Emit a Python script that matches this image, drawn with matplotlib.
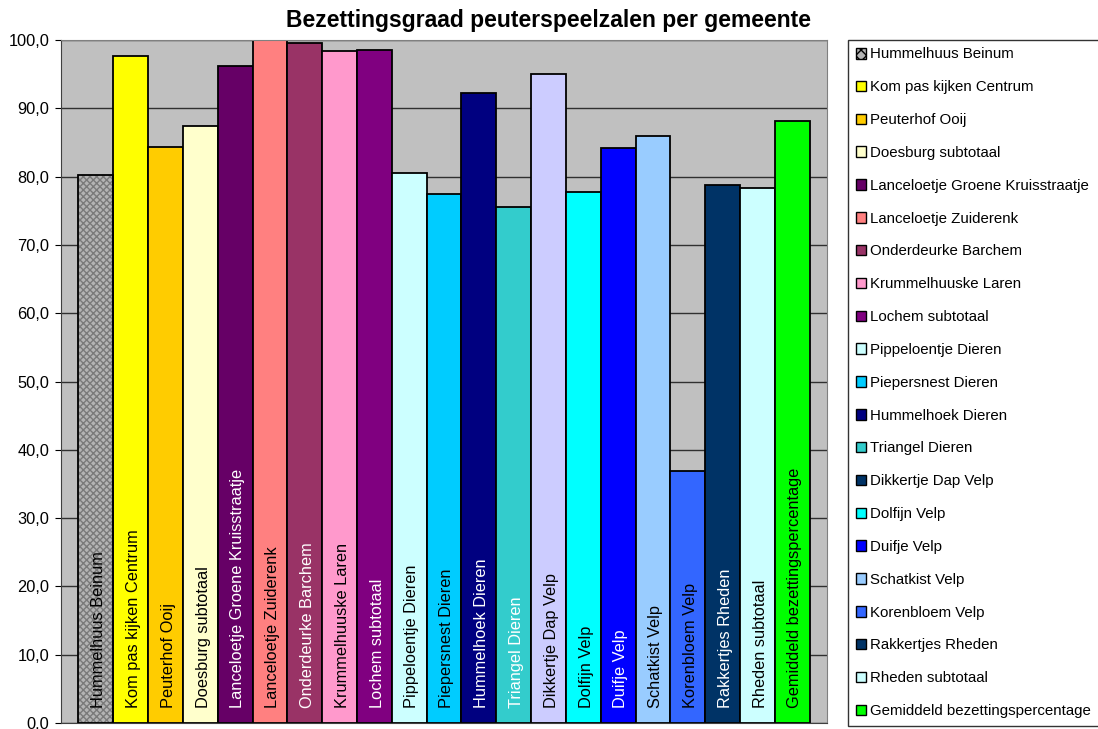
import matplotlib
matplotlib.use('Agg')
import matplotlib.pyplot as plt
from matplotlib.patches import Patch
from matplotlib.ticker import FuncFormatter

plt.rcParams['font.family'] = ['Liberation Sans', 'DejaVu Sans']

names = ['Hummelhuus Beinum', 'Kom pas kijken Centrum', 'Peuterhof Ooij', 'Doesburg subtotaal',
         'Lanceloetje Groene Kruisstraatje', 'Lanceloetje Zuiderenk', 'Onderdeurke Barchem',
         'Krummelhuuske Laren', 'Lochem subtotaal', 'Pippeloentje Dieren', 'Piepersnest Dieren',
         'Hummelhoek Dieren', 'Triangel Dieren', 'Dikkertje Dap Velp', 'Dolfijn Velp', 'Duifje Velp',
         'Schatkist Velp', 'Korenbloem Velp', 'Rakkertjes Rheden', 'Rheden subtotaal',
         'Gemiddeld bezettingspercentage']
values = [80.2, 97.7, 84.4, 87.4, 96.2, 100.0, 99.6, 98.4, 98.5, 80.6, 77.4,
          92.2, 75.5, 95.0, 77.7, 84.2, 85.9, 36.9, 78.8, 78.4, 88.1]
bar_colors = ['#B4B4B4', '#FFFF00', '#FFCC00', '#FFFFCC', '#660066', '#FF8080', '#993366',
              '#FF99CC', '#800080', '#CCFFFF', '#00CCFF', '#000080', '#33CCCC', '#CCCCFF',
              '#00FFFF', '#0000FF', '#99CCFF', '#3366FF', '#003366', '#CCFFFF', '#00FF00']
legend_colors = bar_colors[:13] + ['#003366'] + bar_colors[14:]
text_colors = ['black', 'black', 'black', 'black', 'white', 'black', 'white', 'black', 'white',
               'black', 'black', 'white', 'white', 'black', 'black', 'white', 'black', 'black',
               'white', 'black', 'black']

fig = plt.figure(figsize=(10.98, 7.29), dpi=100)
ax = fig.add_axes([61/1098, 1-723/729, (827-61)/1098, (723-40)/729])
ax.set_facecolor('#C0C0C0')

for i, (v, c) in enumerate(zip(values, bar_colors)):
    if i == 0:
        ax.bar(i, v, width=1.0, color=c, hatch='xxxxx', edgecolor='#7A7A7A', linewidth=0, zorder=2)
        ax.bar(i, v, width=1.0, fill=False, edgecolor='black', linewidth=1.3, zorder=3)
    else:
        ax.bar(i, v, width=1.0, color=c, edgecolor='black', linewidth=1.3, zorder=2)
    ax.text(i + 0.08, 2.2, names[i], rotation=90, ha='center', va='bottom', fontsize=11.8,
            color=text_colors[i], zorder=4)

ax.set_xlim(-1, 21)
ax.set_ylim(0, 100)
ax.set_yticks(range(0, 101, 10))
ax.yaxis.set_major_formatter(FuncFormatter(lambda v, p: f'{v:.1f}'.replace('.', ',')))
ax.tick_params(axis='y', direction='out', length=4.5, labelsize=11.8, pad=4)
ax.set_xticks([])
ax.yaxis.grid(True, color='#303030', linewidth=1)
ax.set_axisbelow(True)
for s in ['top', 'right']:
    ax.spines[s].set_color('#808080')
ax.spines['left'].set_color('#404040')
ax.spines['bottom'].set_color('#404040')

fig.text(0.5, 1-20/729, 'Bezettingsgraad peuterspeelzalen per gemeente', ha='center', va='center',
         fontsize=16.5, fontweight='bold')

handles = [Patch(facecolor=c, edgecolor='black', linewidth=1) for c in legend_colors]
handles[0] = Patch(facecolor='#B4B4B4', edgecolor='black', hatch='xxx', linewidth=1)
leg = fig.legend(handles, names, loc='upper left', bbox_to_anchor=(848/1098, 1-40/729),
                 fontsize=10.8, frameon=True, fancybox=False, edgecolor='black',
                 handlelength=0.7, handleheight=0.7, handletextpad=0.3,
                 labelspacing=1.255, borderpad=0.5, borderaxespad=0)
leg.get_frame().set_linewidth(1)

fig.savefig('out.png', dpi=100)
